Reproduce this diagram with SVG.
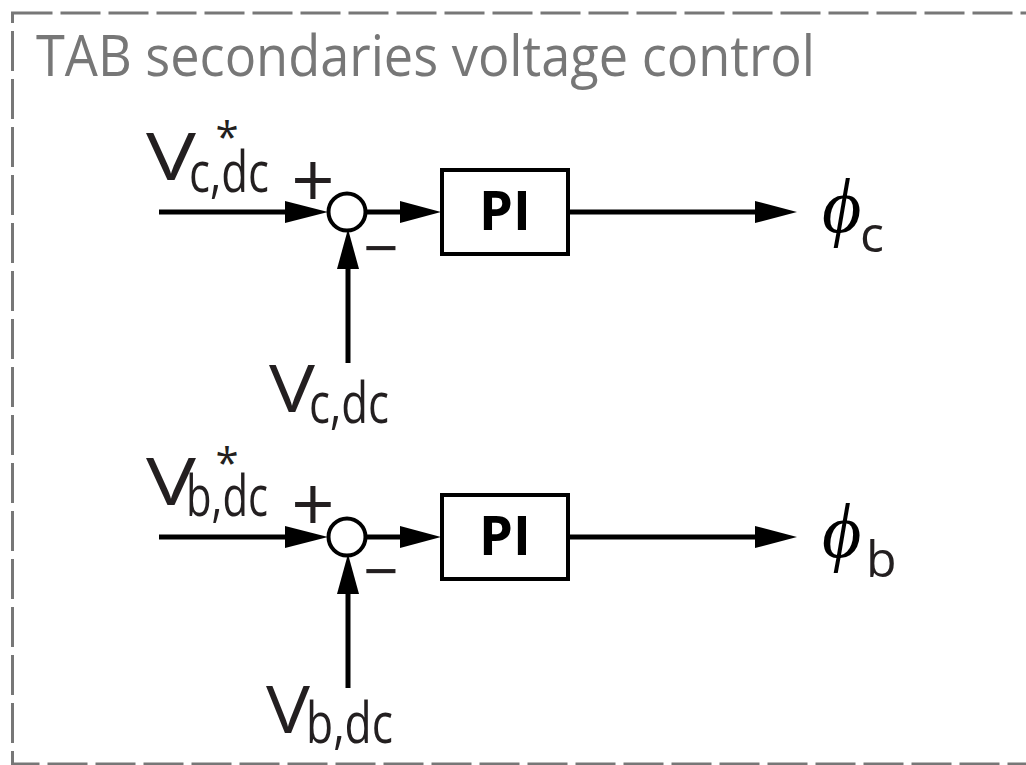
<svg xmlns="http://www.w3.org/2000/svg" width="1026" height="765" viewBox="0 0 1026 765">
<style>
.frame{fill:none;stroke:#777;stroke-width:3;stroke-dasharray:40 8}
.title{font-family:"Open Sans","Noto Sans",sans-serif;font-size:56px;fill:#777}
.lbl{font-family:"Open Sans","Noto Sans",sans-serif;fill:#231f20}
.v{font-size:66px}
.sub{font-size:56px}
.ast{font-size:42px;text-anchor:middle}
.plus{font-size:76px;text-anchor:middle}
.minus{font-size:62px;text-anchor:middle}
.pi{font-family:"Open Sans","Noto Sans",sans-serif;font-weight:bold;font-size:54px;text-anchor:middle;fill:#000}
.phi{font-family:"Liberation Serif","DejaVu Serif",serif;font-style:italic;font-size:76px;fill:#000}
.psub{font-family:"Open Sans","Noto Sans",sans-serif;font-size:50px;fill:#231f20}
.ln{stroke:#000;stroke-width:5;fill:none}
.ah{fill:#000}
.sum{fill:#fff;stroke:#000;stroke-width:4}
.box{fill:#fff;stroke:#000;stroke-width:4}
</style>
<rect class="frame" x="12.5" y="13" width="1030" height="751"/>
<text class="title" x="36" y="76" textLength="779" lengthAdjust="spacingAndGlyphs">TAB secondaries voltage control</text>

<g id="connectors">
  <line class="ln" x1="159" y1="212" x2="290" y2="212"/>
  <polygon class="ah" points="285,201 328,212 285,223"/>
  <line class="ln" x1="366" y1="212" x2="405" y2="212"/>
  <polygon class="ah" points="400,201 441,212 400,223"/>
  <line class="ln" x1="570" y1="212" x2="760" y2="212"/>
  <polygon class="ah" points="755,201 797,212 755,223"/>
  <line class="ln" x1="348" y1="363" x2="348" y2="265"/>
  <polygon class="ah" points="337,269 348,229 359,269"/>

  <line class="ln" x1="159" y1="537" x2="290" y2="537"/>
  <polygon class="ah" points="285,526 328,537 285,548"/>
  <line class="ln" x1="366" y1="537" x2="405" y2="537"/>
  <polygon class="ah" points="400,526 441,537 400,548"/>
  <line class="ln" x1="570" y1="537" x2="760" y2="537"/>
  <polygon class="ah" points="755,526 797,537 755,548"/>
  <line class="ln" x1="348" y1="688" x2="348" y2="590"/>
  <polygon class="ah" points="337,594 348,554 359,594"/>
</g>

<g id="sum_c">
  <circle class="sum" cx="347" cy="212" r="18.5"/>
  <text class="lbl plus" x="313" y="208">+</text>
  <text class="lbl minus" x="381" y="270">−</text>
</g>
<g id="pi_c">
  <rect class="box" x="442" y="170" width="126" height="84"/>
  <text class="pi" x="505" y="230">PI</text>
</g>
<g id="in_ref_c">
  <text class="lbl v" x="146" y="180" textLength="50" lengthAdjust="spacingAndGlyphs">V</text>
  <text class="lbl sub" x="189" y="192" textLength="80" lengthAdjust="spacingAndGlyphs">c,dc</text>
  <text class="lbl ast" x="227" y="152">*</text>
</g>
<g id="in_meas_c">
  <text class="lbl v" x="269" y="412" textLength="46" lengthAdjust="spacingAndGlyphs">V</text>
  <text class="lbl sub" x="309" y="423" textLength="80" lengthAdjust="spacingAndGlyphs">c,dc</text>
</g>
<g id="out_c">
  <text class="phi" x="822" y="232">ϕ</text>
  <text class="psub" x="860" y="252">c</text>
</g>

<g id="sum_b">
  <circle class="sum" cx="347" cy="537" r="18.5"/>
  <text class="lbl plus" x="313" y="532">+</text>
  <text class="lbl minus" x="381" y="593">−</text>
</g>
<g id="pi_b">
  <rect class="box" x="442" y="495" width="126" height="84"/>
  <text class="pi" x="505" y="555">PI</text>
</g>
<g id="in_ref_b">
  <text class="lbl v" x="146" y="505" textLength="50" lengthAdjust="spacingAndGlyphs">V</text>
  <text class="lbl sub" x="186" y="516" textLength="82" lengthAdjust="spacingAndGlyphs">b,dc</text>
  <text class="lbl ast" x="227" y="478">*</text>
</g>
<g id="in_meas_b">
  <text class="lbl v" x="266" y="733" textLength="44" lengthAdjust="spacingAndGlyphs">V</text>
  <text class="lbl sub" x="306" y="743" textLength="87" lengthAdjust="spacingAndGlyphs">b,dc</text>
</g>
<g id="out_b">
  <text class="phi" x="822" y="557">ϕ</text>
  <text class="psub" x="866" y="577">b</text>
</g>
</svg>
